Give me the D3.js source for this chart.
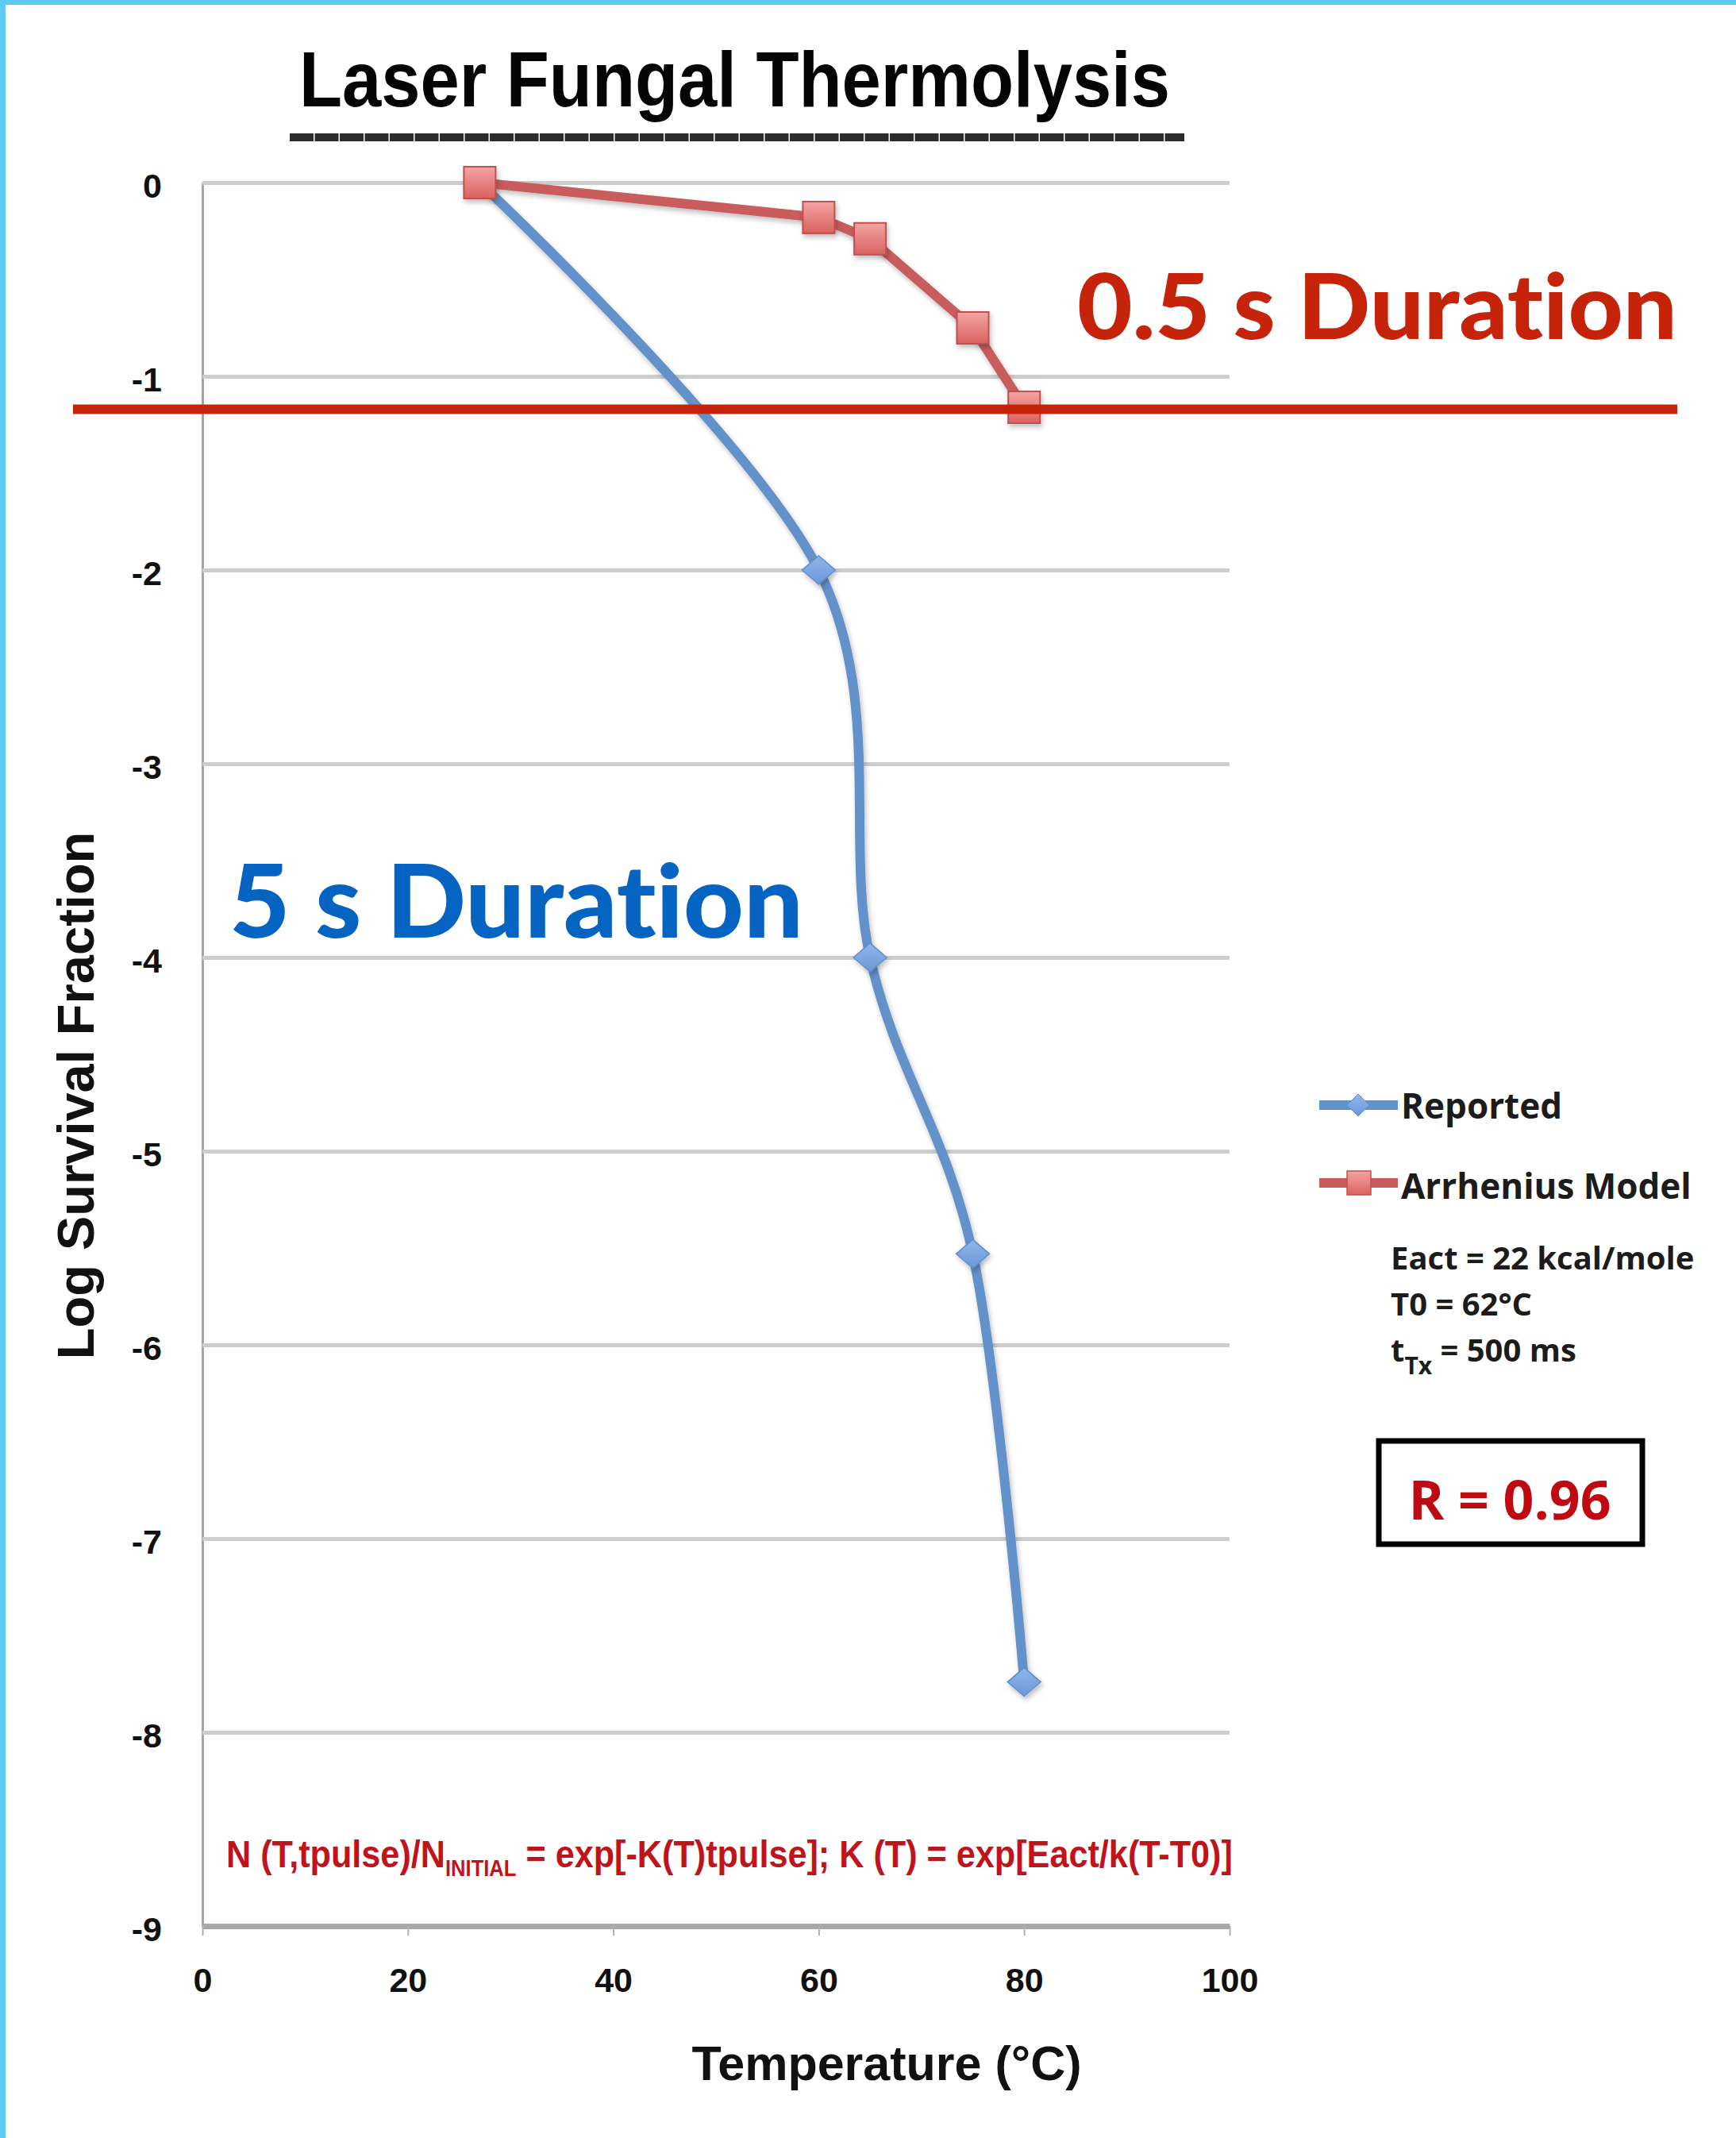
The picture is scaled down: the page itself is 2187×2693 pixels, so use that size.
<!DOCTYPE html>
<html lang="en">
<head>
<meta charset="UTF-8">
<script src="https://cdn.jsdelivr.net/npm/d3@7"></script>
<title>Laser Fungal Thermolysis</title>
<style>
  body { margin: 0; background: #fff; }
  svg { display: block; }
  text { font-variant-ligatures: none; font-feature-settings: "liga" 0; }
  .tick text { font-family: "Liberation Sans", Arial, sans-serif; font-weight: bold; fill: #111; }
  .legend text { font-family: "Open Sans", "DejaVu Sans", sans-serif; font-weight: bold; fill: #1c1c1c; }
</style>
</head>
<body>
<svg id="chart" width="2187" height="2693"></svg>
<script>
  // values
  var temps     = [27, 60, 65, 75, 80];
  var reported  = [0, -2, -4, -5.53, -7.74];
  var arrhenius = [0, -0.18, -0.29, -0.75, -1.16];
  var xTicks = [0, 20, 40, 60, 80, 100];
  var yTicks = [0, -1, -2, -3, -4, -5, -6, -7, -8, -9];
  var cutoff = -1.17;   // red "0.5 s" threshold line
  var params = ["Eact = 22 kcal/mole", "T0 = 62°C"];

  var svg = d3.select("#chart");
  var x = d3.scaleLinear().domain([0, 100]).range([255, 1549]),
      y = d3.scaleLinear().domain([0, -9]).range([230, 2426]);

  // squeeze/stretch a text element horizontally to a given width
  function fitWidth(sel, x0, width) {
    var bb = sel.node().getBBox();
    sel.attr("transform", "translate(" + x0 + ",0) scale(" + (width / bb.width) + ",1) translate(" + (-bb.x) + ",0)");
  }

  // frame edges
  svg.append("rect").attr("x", 0).attr("y", 0).attr("width", 7).attr("height", 2693).attr("fill", "#5ccbef");
  svg.append("rect").attr("x", 0).attr("y", 0).attr("width", 2187).attr("height", 6).attr("fill", "#5ccbef");

  var defs = svg.append("defs");
  var g1 = defs.append("linearGradient").attr("id", "sq").attr("x1", 0).attr("y1", 0).attr("x2", 0).attr("y2", 1);
  g1.append("stop").attr("offset", "0%").attr("stop-color", "#f4a4a4");
  g1.append("stop").attr("offset", "100%").attr("stop-color", "#d9615f");
  var g2 = defs.append("linearGradient").attr("id", "dm").attr("x1", 0).attr("y1", 0).attr("x2", 0).attr("y2", 1);
  g2.append("stop").attr("offset", "0%").attr("stop-color", "#8fb6ec");
  g2.append("stop").attr("offset", "100%").attr("stop-color", "#6b98d6");
  var sh = defs.append("filter").attr("id", "shadow").attr("x", "-30%").attr("y", "-30%").attr("width", "160%").attr("height", "160%");
  sh.append("feDropShadow").attr("dx", 2).attr("dy", 4).attr("stdDeviation", 3).attr("flood-color", "#000").attr("flood-opacity", 0.25);

  // title
  var title = svg.append("text").attr("x", 0).attr("y", 134)
      .style("font-family", "'Liberation Sans Narrow', 'Liberation Sans', Arial, sans-serif")
      .style("font-weight", "bold").style("font-size", "98px").attr("fill", "#050505")
      .text("Laser Fungal Thermolysis");
  fitWidth(title, 377, 1097);
  svg.append("line").attr("x1", 365).attr("x2", 1492).attr("y1", 173).attr("y2", 173)
      .attr("stroke", "#2c2c2c").attr("stroke-width", 10).attr("stroke-dasharray", "30 1.5");

  // grid + y axis
  var yAxis = svg.append("g").attr("transform", "translate(" + x(0) + ",0)")
      .call(d3.axisLeft(y).tickValues(yTicks).tickFormat(function(d) { return String(d); })
        .tickSize(-(x(100) - x(0))).tickSizeOuter(0).tickPadding(51));
  yAxis.select(".domain").attr("stroke", "#a5a5a5").attr("stroke-width", 3);
  yAxis.selectAll(".tick line").attr("stroke", "#cdcdcd").attr("stroke-width", 5);
  yAxis.selectAll(".tick text").style("font-size", "43px").attr("dy", "0.43em");

  var xAxis = svg.append("g").attr("transform", "translate(0," + y(-9) + ")")
      .call(d3.axisBottom(x).tickValues(xTicks).tickSize(12).tickSizeOuter(0).tickPadding(40));
  xAxis.select(".domain").attr("stroke", "#a8a8a8").attr("stroke-width", 7);
  xAxis.selectAll(".tick line").attr("stroke", "#b0b0b0").attr("stroke-width", 2);
  xAxis.selectAll(".tick text").style("font-size", "43px");

  // axis titles
  svg.append("text").attr("transform", "translate(118,1380) rotate(-90)").attr("text-anchor", "middle")
      .style("font-family", "'Liberation Sans', Arial, sans-serif").style("font-weight", "bold").style("font-size", "65px")
      .attr("fill", "#111").text("Log Survival Fraction");
  svg.append("text").attr("x", 1117).attr("y", 2620).attr("text-anchor", "middle")
      .style("font-family", "'Liberation Sans', Arial, sans-serif").style("font-weight", "bold").style("font-size", "61px")
      .attr("fill", "#111").text("Temperature (°C)");

  // series
  var rows = temps.map(function(t, i) { return {t: t, rep: reported[i], arr: arrhenius[i]}; });
  var lineRep = d3.line().x(function(d) { return x(d.t); }).y(function(d) { return y(d.rep); })
      .curve(d3.curveCardinal.tension(0));
  var lineArr = d3.line().x(function(d) { return x(d.t); }).y(function(d) { return y(d.arr); });

  svg.append("path").attr("d", lineRep(rows)).attr("fill", "none")
      .attr("stroke", "#6391c9").attr("stroke-width", 12).attr("stroke-linejoin", "round").attr("filter", "url(#shadow)");
  var diamond = function(w, h) { return "M0," + (-h) + "L" + w + ",0L0," + h + "L" + (-w) + ",0Z"; };
  svg.selectAll(".dm").data(rows.slice(1)).join("path").attr("class", "dm")
      .attr("transform", function(d) { return "translate(" + x(d.t) + "," + y(d.rep) + ")"; })
      .attr("d", diamond(21, 18)).attr("fill", "url(#dm)").attr("stroke", "#5f8fcf").attr("stroke-width", 1.5)
      .attr("filter", "url(#shadow)");

  svg.append("path").attr("d", lineArr(rows)).attr("fill", "none")
      .attr("stroke", "#c95c5b").attr("stroke-width", 12).attr("stroke-linejoin", "round").attr("filter", "url(#shadow)");
  svg.selectAll(".sq").data(rows).join("rect").attr("class", "sq")
      .attr("x", function(d) { return x(d.t) - 20; }).attr("y", function(d) { return y(d.arr) - 20; })
      .attr("width", 40).attr("height", 40).attr("fill", "url(#sq)").attr("stroke", "#c0504d").attr("stroke-width", 2)
      .attr("filter", "url(#shadow)");

  // threshold line + duration labels
  svg.append("line").attr("x1", 92).attr("x2", 2113).attr("y1", y(cutoff)).attr("y2", y(cutoff))
      .attr("stroke", "#c6240a").attr("stroke-width", 12);

  var red = svg.append("text").attr("x", 0).attr("y", 427)
      .style("font-family", "Lato, 'Open Sans', sans-serif").style("font-weight", "900").style("font-size", "114px")
      .attr("fill", "#c6240a").text("0.5 s Duration");
  fitWidth(red, 1357, 756);
  var blue = svg.append("text").attr("x", 0).attr("y", 1181)
      .style("font-family", "Lato, 'Open Sans', sans-serif").style("font-weight", "900").style("font-size", "128px")
      .attr("fill", "#0563c1").text("5 s Duration");
  fitWidth(blue, 289, 723);

  // legend
  var lg = svg.append("g").attr("class", "legend");
  lg.append("line").attr("x1", 1662).attr("x2", 1761).attr("y1", 1392).attr("y2", 1392)
      .attr("stroke", "#6391c9").attr("stroke-width", 12);
  lg.append("path").attr("transform", "translate(1711,1392)").attr("d", diamond(14, 14))
      .attr("fill", "url(#dm)").attr("stroke", "#5f8fcf");
  lg.append("text").attr("x", 1765).attr("y", 1409).style("font-size", "44px").text("Reported");
  lg.append("line").attr("x1", 1662).attr("x2", 1761).attr("y1", 1490).attr("y2", 1490)
      .attr("stroke", "#c95c5b").attr("stroke-width", 12);
  lg.append("rect").attr("x", 1697).attr("y", 1475).attr("width", 30).attr("height", 30)
      .attr("fill", "url(#sq)").attr("stroke", "#c0504d").attr("stroke-width", 1.5);
  lg.append("text").attr("x", 1765).attr("y", 1510).style("font-size", "44px").text("Arrhenius Model");

  lg.selectAll(".param").data(params).join("text").attr("class", "param")
      .attr("x", 1752).attr("y", function(d, i) { return 1599 + i * 58; })
      .style("font-size", "40px").text(function(d) { return d; });
  var tt = lg.append("text").attr("x", 1752).attr("y", 1715).style("font-size", "40px");
  tt.append("tspan").text("t");
  tt.append("tspan").attr("dy", 16).style("font-size", "30px").text("Tx");
  tt.append("tspan").attr("dy", -16).text(" = 500 ms");

  // R box
  svg.append("rect").attr("x", 1737).attr("y", 1815).attr("width", 332).attr("height", 130)
      .attr("fill", "#fff").attr("stroke", "#000").attr("stroke-width", 7);
  svg.append("text").attr("x", 1902).attr("y", 1914).attr("text-anchor", "middle")
      .style("font-family", "'Open Sans', sans-serif").style("font-weight", "bold").style("font-size", "68px")
      .attr("fill", "#bf0a12").text("R = 0.96");

  // model formula
  var f = svg.append("text").attr("x", 0).attr("y", 2352)
      .style("font-family", "'Liberation Sans Narrow', 'Liberation Sans', Arial, sans-serif")
      .style("font-weight", "bold").style("font-size", "49px").attr("fill", "#c0141c");
  f.append("tspan").text("N (T,tpulse)/N");
  f.append("tspan").attr("dy", 11).style("font-size", "29px").text("INITIAL");
  f.append("tspan").attr("dy", -11).text(" = exp[-K(T)tpulse]; K (T) = exp[Eact/k(T-T0)]");
  fitWidth(f, 285, 1268);
</script>
</body>
</html>
